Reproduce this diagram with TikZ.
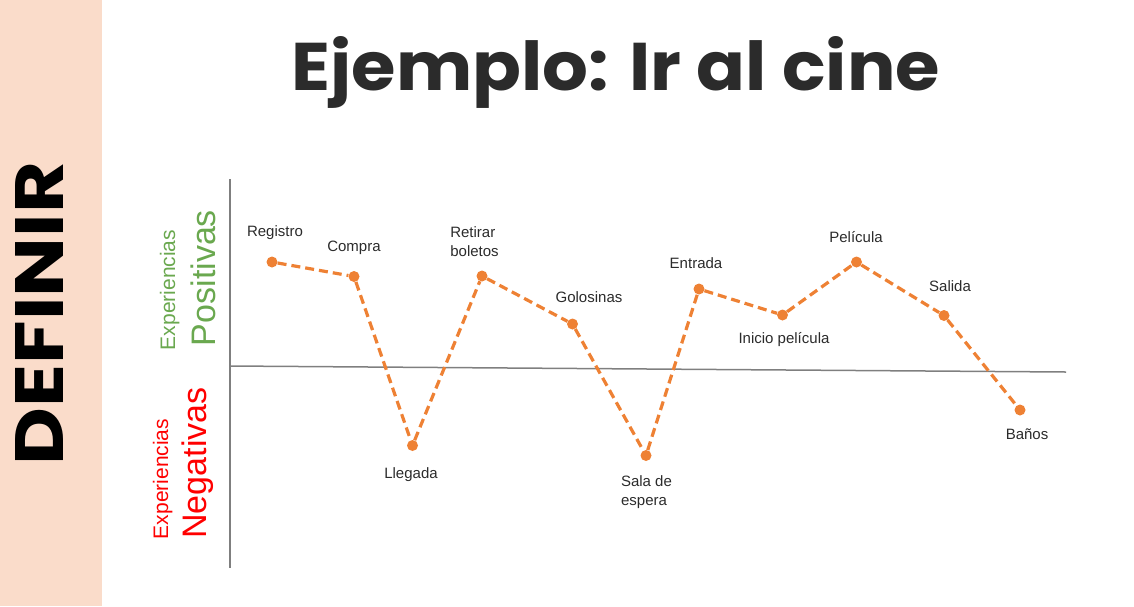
\documentclass[tikz,border=0pt]{standalone}
\usepackage{graphicx}
\usepackage{fontspec}
\setmainfont{Liberation Sans}
\newfontfamily\headfont{Poppins}
\usetikzlibrary{positioning}
\definecolor{peach}{HTML}{FADCCA}
\definecolor{journey}{HTML}{EE8134}
\definecolor{axisgray}{HTML}{7F7F7F}
\definecolor{goodgreen}{HTML}{6AA84F}
\definecolor{badred}{HTML}{FF0000}
\definecolor{ink}{HTML}{2B2B2B}

\begin{document}
\begin{tikzpicture}[x=1pt,y=-1pt,
    stop/.style={circle,fill=journey,inner sep=0pt,minimum size=11pt},
    trail/.style={draw=journey,line width=3.2pt,dash pattern=on 9pt off 5pt},
    lbl/.style={font=\fontsize{15}{19}\selectfont,text=ink,align=left,inner sep=0pt},
    side/.style={rotate=90,anchor=base,inner sep=0pt},
    axis/.style={draw=axisgray,line width=1.5pt}]
    \useasboundingbox (0,0) rectangle (1134,606);
    \fill[peach] (0,0) rectangle (102,606);
    \node[rotate=90,inner sep=0pt,text=black] (Def) at (39,313.5) {\resizebox{303pt}{48pt}{\headfont\bfseries DEFINIR}};
    \node[anchor=base,inner sep=0pt,text=ink] (Title) at (616,90) {\resizebox{648pt}{54pt}{\headfont\bfseries Ejemplo: Ir al cine}};

    \node[side,text=goodgreen,font=\fontsize{21}{25}\selectfont] (PosA) at (175,290) {Experiencias};
    \node[side,text=goodgreen,font=\fontsize{34}{40}\selectfont] (PosB) at (215,278) {Positivas};
    \node[side,text=badred,font=\fontsize{21}{25}\selectfont] (NegA) at (168,479) {Experiencias};
    \node[side,text=badred,font=\fontsize{34}{40}\selectfont] (NegB) at (206,463) {Negativas};

    \coordinate (Top) at (230,179);
    \coordinate (Bot) at (230,568);
    \coordinate (Left) at (230,366);
    \coordinate (Right) at (1066,372);
    \draw[axis] (Top) -- (Bot);
    \draw[axis] (Left) -- (Right);

    \node[stop] (Reg) at (272,262) {};
    \node[stop] (Comp) at (354,276.5) {};
    \node[stop] (Lleg) at (412.5,445.5) {};
    \node[stop] (Ret) at (482,276) {};
    \node[stop] (Golo) at (572.5,324) {};
    \node[stop] (Sala) at (646,455.5) {};
    \node[stop] (Entr) at (699,289) {};
    \node[stop] (Ini) at (782.5,315) {};
    \node[stop] (Peli) at (856.5,262) {};
    \node[stop] (Sal) at (944,315.5) {};
    \node[stop] (Ban) at (1020,410) {};
    \draw[trail] (Reg) -- (Comp) -- (Lleg) -- (Ret) -- (Golo) -- (Sala) -- (Entr)
        -- (Ini) -- (Peli) -- (Sal) -- (Ban);

    \node[lbl] (RegL) at (275,233) {Registro};
    \node[lbl] (CompL) at (354,248) {Compra};
    \node[lbl] (LlegL) at (411,475) {Llegada};
    \node[lbl] (RetL) at (474.5,241.5) {Retirar\\boletos};
    \node[lbl] (GoloL) at (589,297.5) {Golosinas};
    \node[lbl] (SalaL) at (646.5,492) {Sala de\\espera};
    \node[lbl] (EntrL) at (696,263) {Entrada};
    \node[lbl] (IniL) at (784,340) {Inicio película};
    \node[lbl] (PeliL) at (856,237) {Película};
    \node[lbl] (SalL) at (950,286) {Salida};
    \node[lbl] (BanL) at (1027,434) {Baños};
\end{tikzpicture}
\end{document}
